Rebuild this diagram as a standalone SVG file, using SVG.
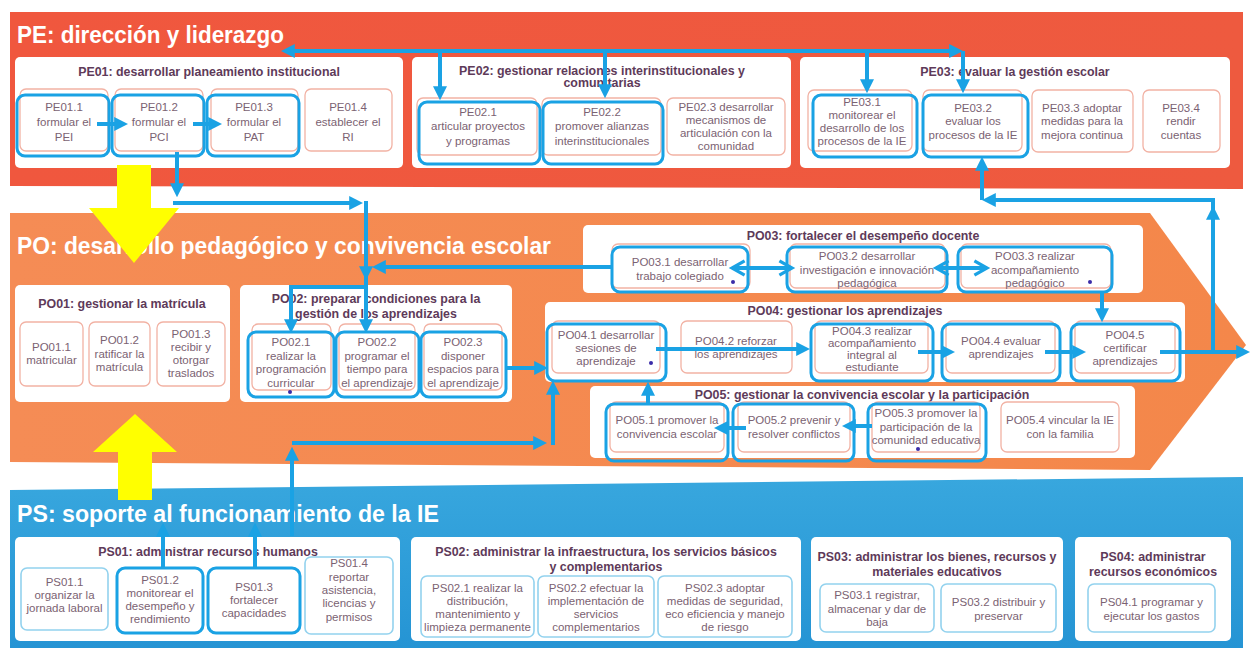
<svg xmlns="http://www.w3.org/2000/svg" width="1256" height="656" viewBox="0 0 1256 656">
<defs>
<linearGradient id="gPE" x1="0" y1="0" x2="1" y2="0"><stop offset="0" stop-color="#f0573e"/><stop offset="1" stop-color="#ee5a3f"/></linearGradient>
<linearGradient id="gPO" x1="0" y1="0" x2="1" y2="0"><stop offset="0" stop-color="#f58c55"/><stop offset="1" stop-color="#f4874a"/></linearGradient>
<linearGradient id="gPS" x1="0" y1="0" x2="0" y2="1"><stop offset="0" stop-color="#38a7de"/><stop offset="1" stop-color="#2594d4"/></linearGradient>
<marker id="ah" viewBox="0 0 10 10" refX="7" refY="5" markerWidth="3.5" markerHeight="3.5" orient="auto-start-reverse"><path d="M0,0L10,5L0,10z" fill="#1aa2e4"/></marker>
<marker id="ch" viewBox="0 0 10 10" refX="8" refY="5" markerWidth="4.5" markerHeight="4.5" orient="auto-start-reverse"><path d="M1,1L8,5L1,9" fill="none" stroke="#1aa2e4" stroke-width="1.8"/></marker>
<style>
.bt{font-family:"Liberation Sans",Arial,sans-serif;font-size:24.6px;font-weight:bold;fill:#ffffff}
.ct{font-family:"Liberation Sans",Arial,sans-serif;font-size:12.4px;font-weight:bold;fill:#5e3a59;text-anchor:middle}
.tx{font-family:"Liberation Sans",Arial,sans-serif;font-size:11.5px;fill:#7b6272;text-anchor:middle}
.c{fill:#ffffff}
.pk{fill:#ffffff;stroke:#f2b2a4;stroke-width:1.3}
.lb{fill:#ffffff;stroke:#93d2ee;stroke-width:1.6}
.hl{fill:none;stroke:#1aa2e4;stroke-width:3}
.cn{fill:none;stroke:#1aa2e4;stroke-width:4}
.dot{fill:#3a2ca8}
.yl{fill:#ffff00}
</style>
</defs>

<g id="bands">
<polygon points="10,12 1243,12 1243,189 10,186" fill="url(#gPE)"/>
<polygon points="10,213 1150,213 1246,345 1150,470 10,462" fill="url(#gPO)"/>
<polygon points="10,490 1243,477 1243,648 10,648" fill="url(#gPS)"/>
<text class="bt" x="17" y="43" textLength="267" lengthAdjust="spacingAndGlyphs">PE: dirección y liderazgo</text>
<text class="bt" x="17" y="254" textLength="534" lengthAdjust="spacingAndGlyphs">PO: desarrollo pedagógico y convivencia escolar</text>
<text class="bt" x="17" y="522" textLength="422" lengthAdjust="spacingAndGlyphs">PS: soporte al funcionamiento de la IE</text>
</g>

<g id="PE01">
<rect class="c" x="15" y="57" width="388" height="111" rx="5"/>
<text class="ct" x="209" y="76">PE01: desarrollar planeamiento institucional</text>
<rect class="pk" x="20" y="89" width="88" height="62" rx="6"/>
<rect class="pk" x="115" y="89" width="88" height="62" rx="6"/>
<rect class="pk" x="211" y="89" width="87" height="62" rx="6"/>
<rect class="pk" x="305" y="89" width="87" height="62" rx="6"/>
<rect class="hl" x="17" y="95" width="92" height="61" rx="8"/>
<rect class="hl" x="112" y="95" width="92" height="61" rx="8"/>
<rect class="hl" x="207" y="95" width="92" height="61" rx="8"/>
<text class="tx" x="64" y="111">PE01.1</text><text class="tx" x="64" y="126">formular el</text><text class="tx" x="64" y="141">PEI</text>
<text class="tx" x="159" y="111">PE01.2</text><text class="tx" x="159" y="126">formular el</text><text class="tx" x="159" y="141">PCI</text>
<text class="tx" x="254" y="111">PE01.3</text><text class="tx" x="254" y="126">formular el</text><text class="tx" x="254" y="141">PAT</text>
<text class="tx" x="348" y="111">PE01.4</text><text class="tx" x="348" y="126">establecer el</text><text class="tx" x="348" y="141">RI</text>
</g>

<g id="PE02">
<rect class="c" x="412" y="57" width="379" height="111" rx="5"/>
<text class="ct" x="602" y="75">PE02: gestionar relaciones interinstitucionales y</text>
<text class="ct" x="602" y="87">comunitarias</text>
<rect class="pk" x="417" y="98" width="120" height="57" rx="6"/>
<rect class="pk" x="542" y="98" width="119" height="57" rx="6"/>
<rect class="pk" x="667" y="98" width="118" height="57" rx="6"/>
<rect class="hl" x="419" y="102" width="121" height="62" rx="8"/>
<rect class="hl" x="543" y="102" width="120" height="62" rx="8"/>
<text class="tx" x="478" y="116">PE02.1</text><text class="tx" x="478" y="130">articular proyectos</text><text class="tx" x="478" y="145">y programas</text>
<text class="tx" x="602" y="116">PE02.2</text><text class="tx" x="602" y="130">promover alianzas</text><text class="tx" x="602" y="145">interinstitucionales</text>
<text class="tx" x="726" y="111">PE02.3 desarrollar</text><text class="tx" x="726" y="124">mecanismos de</text><text class="tx" x="726" y="137">articulación con la</text><text class="tx" x="726" y="150">comunidad</text>
</g>

<g id="PE03">
<rect class="c" x="800" y="57" width="430" height="111" rx="5"/>
<text class="ct" x="1015" y="76">PE03: evaluar la gestión escolar</text>
<rect class="pk" x="808" y="90" width="104" height="61" rx="6"/>
<rect class="pk" x="923" y="90" width="99" height="61" rx="6"/>
<rect class="pk" x="1032" y="90" width="101" height="62" rx="6"/>
<rect class="pk" x="1143" y="90" width="77" height="62" rx="6"/>
<rect class="hl" x="813" y="95" width="104" height="62" rx="8"/>
<rect class="hl" x="923" y="95" width="105" height="62" rx="8"/>
<text class="tx" x="862" y="105.5">PE03.1</text><text class="tx" x="862" y="118.5">monitorear el</text><text class="tx" x="862" y="131.5">desarrollo de los</text><text class="tx" x="862" y="144.5">procesos de la IE</text>
<text class="tx" x="973" y="111.5">PE03.2</text><text class="tx" x="973" y="125">evaluar los</text><text class="tx" x="973" y="138.5">procesos de la IE</text>
<text class="tx" x="1082" y="111.5">PE03.3 adoptar</text><text class="tx" x="1082" y="125">medidas para la</text><text class="tx" x="1082" y="138.5">mejora continua</text>
<text class="tx" x="1181" y="111.5">PE03.4</text><text class="tx" x="1181" y="125">rendir</text><text class="tx" x="1181" y="138.5">cuentas</text>
</g>

<g id="PO01">
<rect class="c" x="15" y="285" width="215" height="117" rx="5"/>
<text class="ct" x="122" y="308">PO01: gestionar la matrícula</text>
<rect class="pk" x="20" y="322" width="63" height="64" rx="6"/>
<rect class="pk" x="89" y="322" width="61" height="64" rx="6"/>
<rect class="pk" x="157" y="322" width="68" height="64" rx="6"/>
<text class="tx" x="51.5" y="351">PO01.1</text><text class="tx" x="51.5" y="364">matricular</text>
<text class="tx" x="119.5" y="344">PO01.2</text><text class="tx" x="119.5" y="357.5">ratificar la</text><text class="tx" x="119.5" y="371">matrícula</text>
<text class="tx" x="191" y="338">PO01.3</text><text class="tx" x="191" y="351">recibir y</text><text class="tx" x="191" y="364">otorgar</text><text class="tx" x="191" y="377">traslados</text>
</g>

<g id="PO02">
<rect class="c" x="240" y="285" width="272" height="117" rx="5"/>
<text class="ct" x="376" y="303">PO02: preparar condiciones para la</text>
<text class="ct" x="376" y="318">gestión de los aprendizajes</text>
<rect class="pk" x="252" y="324" width="79" height="66" rx="6"/>
<rect class="pk" x="339" y="324" width="76" height="66" rx="6"/>
<rect class="pk" x="424" y="324" width="78" height="66" rx="6"/>
<rect class="hl" x="248" y="332" width="86" height="65" rx="8"/>
<rect class="hl" x="336" y="332" width="83" height="65" rx="8"/>
<rect class="hl" x="421" y="332" width="85" height="65" rx="8"/>
<text class="tx" x="291" y="346">PO02.1</text><text class="tx" x="291" y="359.5">realizar la</text><text class="tx" x="291" y="373">programación</text><text class="tx" x="291" y="386.5">curricular</text>
<text class="tx" x="377" y="346">PO02.2</text><text class="tx" x="377" y="359.5">programar el</text><text class="tx" x="377" y="373">tiempo para</text><text class="tx" x="377" y="386.5">el aprendizaje</text>
<text class="tx" x="463" y="346">PO02.3</text><text class="tx" x="463" y="359.5">disponer</text><text class="tx" x="463" y="373">espacios para</text><text class="tx" x="463" y="386.5">el aprendizaje</text>
<circle class="dot" cx="290" cy="392" r="2"/>
</g>

<g id="PO03">
<rect class="c" x="583" y="225" width="560" height="68" rx="5"/>
<text class="ct" x="863" y="240">PO03: fortalecer el desempeño docente</text>
<rect class="pk" x="612" y="244" width="138" height="44" rx="6"/>
<rect class="pk" x="790" y="244" width="155" height="44" rx="6"/>
<rect class="pk" x="961" y="244" width="150" height="44" rx="6"/>
<rect class="hl" x="612" y="247" width="136" height="45" rx="8"/>
<rect class="hl" x="787" y="247" width="160" height="45" rx="8"/>
<rect class="hl" x="958" y="247" width="154" height="45" rx="8"/>
<text class="tx" x="680" y="266">PO03.1 desarrollar</text><text class="tx" x="680" y="280">trabajo colegiado</text>
<text class="tx" x="867" y="260">PO03.2 desarrollar</text><text class="tx" x="867" y="273.5">investigación e innovación</text><text class="tx" x="867" y="287">pedagógica</text>
<text class="tx" x="1035" y="260">PO03.3 realizar</text><text class="tx" x="1035" y="273.5">acompañamiento</text><text class="tx" x="1035" y="287">pedagógico</text>
<circle class="dot" cx="733" cy="282" r="2"/>
<circle class="dot" cx="1090" cy="282" r="2"/>
</g>

<g id="PO04">
<rect class="c" x="545" y="302" width="640" height="80" rx="5"/>
<text class="ct" x="845" y="315">PO04: gestionar los aprendizajes</text>
<rect class="pk" x="552" y="321" width="108" height="52" rx="6"/>
<rect class="pk" x="681" y="321" width="111" height="52" rx="6"/>
<rect class="pk" x="815" y="321" width="113" height="52" rx="6"/>
<rect class="pk" x="946" y="321" width="109" height="52" rx="6"/>
<rect class="pk" x="1075" y="321" width="100" height="52" rx="6"/>
<rect class="hl" x="547" y="324" width="119" height="57" rx="8"/>
<rect class="hl" x="811" y="324" width="122" height="57" rx="8"/>
<rect class="hl" x="942" y="324" width="118" height="57" rx="8"/>
<rect class="hl" x="1071" y="324" width="109" height="57" rx="8"/>
<text class="tx" x="606" y="339">PO04.1 desarrollar</text><text class="tx" x="606" y="352">sesiones de</text><text class="tx" x="606" y="365">aprendizaje</text>
<text class="tx" x="736" y="345">PO04.2 reforzar</text><text class="tx" x="736" y="358">los aprendizajes</text>
<text class="tx" x="872" y="335">PO04.3 realizar</text><text class="tx" x="872" y="347">acompañamiento</text><text class="tx" x="872" y="359">integral al</text><text class="tx" x="872" y="371">estudiante</text>
<text class="tx" x="1001" y="345">PO04.4 evaluar</text><text class="tx" x="1001" y="358">aprendizajes</text>
<text class="tx" x="1125" y="339">PO04.5</text><text class="tx" x="1125" y="352">certificar</text><text class="tx" x="1125" y="365">aprendizajes</text>
<circle class="dot" cx="651" cy="363" r="2"/>
</g>

<g id="PO05">
<rect class="c" x="590" y="386" width="545" height="72" rx="5"/>
<text class="ct" x="862" y="399">PO05: gestionar la convivencia escolar y la participación</text>
<rect class="pk" x="610" y="402" width="114" height="50" rx="6"/>
<rect class="pk" x="738" y="402" width="112" height="50" rx="6"/>
<rect class="pk" x="872" y="402" width="108" height="50" rx="6"/>
<rect class="pk" x="1001" y="402" width="118" height="50" rx="6"/>
<rect class="hl" x="606" y="404" width="122" height="57" rx="8"/>
<rect class="hl" x="733" y="404" width="121" height="57" rx="8"/>
<rect class="hl" x="868" y="404" width="118" height="57" rx="8"/>
<text class="tx" x="667" y="424">PO05.1 promover la</text><text class="tx" x="667" y="438">convivencia escolar</text>
<text class="tx" x="794" y="424">PO05.2 prevenir y</text><text class="tx" x="794" y="438">resolver conflictos</text>
<text class="tx" x="926" y="417">PO05.3 promover la</text><text class="tx" x="926" y="430.5">participación de la</text><text class="tx" x="926" y="444">comunidad educativa</text>
<text class="tx" x="1060" y="424">PO05.4 vincular la IE</text><text class="tx" x="1060" y="438">con la familia</text>
<circle class="dot" cx="918" cy="449" r="2"/>
</g>

<g id="PS01">
<rect class="c" x="15" y="537" width="385" height="104" rx="5"/>
<text class="ct" x="208" y="556">PS01: administrar recursos humanos</text>
<rect class="lb" x="21" y="568" width="87" height="62" rx="6"/>
<rect class="lb" x="305" y="557" width="88" height="77" rx="6"/>
<rect class="hl" x="117" y="568" width="86" height="65" rx="8"/>
<rect class="hl" x="208" y="568" width="92" height="65" rx="8"/>
<text class="tx" x="64.5" y="586">PS01.1</text><text class="tx" x="64.5" y="599">organizar la</text><text class="tx" x="64.5" y="612">jornada laboral</text>
<text class="tx" x="160" y="584">PS01.2</text><text class="tx" x="160" y="597">monitorear el</text><text class="tx" x="160" y="610">desempeño y</text><text class="tx" x="160" y="623">rendimiento</text>
<text class="tx" x="254" y="591">PS01.3</text><text class="tx" x="254" y="604">fortalecer</text><text class="tx" x="254" y="617">capacidades</text>
<text class="tx" x="349" y="567">PS01.4</text><text class="tx" x="349" y="581">reportar</text><text class="tx" x="349" y="594">asistencia,</text><text class="tx" x="349" y="607">licencias y</text><text class="tx" x="349" y="621">permisos</text>
</g>

<g id="PS02">
<rect class="c" x="411" y="537" width="390" height="104" rx="5"/>
<text class="ct" x="606" y="556">PS02: administrar la infraestructura, los servicios básicos</text>
<text class="ct" x="606" y="571">y complementarios</text>
<rect class="lb" x="421" y="576" width="113" height="61" rx="6"/>
<rect class="lb" x="538" y="576" width="116" height="61" rx="6"/>
<rect class="lb" x="658" y="576" width="134" height="61" rx="6"/>
<text class="tx" x="477.5" y="592">PS02.1 realizar la</text><text class="tx" x="477.5" y="605">distribución,</text><text class="tx" x="477.5" y="618">mantenimiento y</text><text class="tx" x="477.5" y="631">limpieza permanente</text>
<text class="tx" x="596" y="592">PS02.2 efectuar la</text><text class="tx" x="596" y="605">implementación de</text><text class="tx" x="596" y="618">servicios</text><text class="tx" x="596" y="631">complementarios</text>
<text class="tx" x="725" y="592">PS02.3 adoptar</text><text class="tx" x="725" y="605">medidas de seguridad,</text><text class="tx" x="725" y="618">eco eficiencia y manejo</text><text class="tx" x="725" y="631">de riesgo</text>
</g>

<g id="PS03">
<rect class="c" x="811" y="537" width="252" height="104" rx="5"/>
<text class="ct" x="937" y="561">PS03: administrar los bienes, recursos y</text>
<text class="ct" x="937" y="576">materiales educativos</text>
<rect class="lb" x="820" y="584" width="114" height="48" rx="6"/>
<rect class="lb" x="941" y="584" width="115" height="48" rx="6"/>
<text class="tx" x="877" y="599">PS03.1 registrar,</text><text class="tx" x="877" y="612.5">almacenar y dar de</text><text class="tx" x="877" y="626">baja</text>
<text class="tx" x="998.5" y="606">PS03.2 distribuir y</text><text class="tx" x="998.5" y="620">preservar</text>
</g>

<g id="PS04">
<rect class="c" x="1075" y="537" width="156" height="104" rx="5"/>
<text class="ct" x="1153" y="561">PS04: administrar</text>
<text class="ct" x="1153" y="576">recursos económicos</text>
<rect class="lb" x="1088" y="584" width="127" height="48" rx="6"/>
<text class="tx" x="1151.5" y="606">PS04.1 programar y</text><text class="tx" x="1151.5" y="620">ejecutar los gastos</text>
</g>

<g id="yellow-arrows">
<polygon class="yl" points="117,165 151,165 151,208 179,208 134,263 89,208 117,208"/>
<polygon class="yl" points="135,414 177,452 152,452 152,500 118,500 118,452 93,452"/>
</g>

<g id="connectors">
<path class="cn" d="M285,51H959" marker-start="url(#ah)" marker-end="url(#ah)"/>
<path class="cn" d="M440,51V96" marker-end="url(#ah)"/>
<path class="cn" d="M605,51V94" marker-end="url(#ah)"/>
<path class="cn" d="M867,51V89" marker-end="url(#ah)"/>
<path class="cn" d="M963,51V89" marker-end="url(#ah)"/>
<path class="cn" d="M97,124H124" marker-end="url(#ah)"/>
<path class="cn" d="M193,124H218" marker-end="url(#ah)"/>
<path class="cn" d="M177,152V193" marker-end="url(#ah)"/>
<path class="cn" d="M173,203H359" marker-end="url(#ah)"/>
<path class="cn" d="M366,201V329" marker-end="url(#ah)"/>
<path class="cn" d="M366,268V276" marker-end="url(#ah)"/>
<path class="cn" d="M366,287H291V329" marker-end="url(#ah)"/>
<path class="cn" d="M612,267H376" marker-end="url(#ah)"/>
<path class="cn" d="M732,268H792" marker-start="url(#ch)" marker-end="url(#ch)"/>
<path class="cn" d="M936,268H987" marker-start="url(#ch)" marker-end="url(#ch)"/>
<path class="cn" d="M1102,292V318" marker-end="url(#ah)"/>
<path class="cn" d="M506,368H544" marker-end="url(#ah)"/>
<path class="cn" d="M292,536V451" marker-end="url(#ah)"/>
<path class="cn" d="M292,443H543" marker-end="url(#ah)"/>
<path class="cn" d="M553,445V385" marker-end="url(#ah)"/>
<path class="cn" d="M163,568V527" marker-end="url(#ah)"/>
<path class="cn" d="M255,568V527" marker-end="url(#ah)"/>
<path class="cn" d="M656,349H806" marker-end="url(#ah)"/>
<path class="cn" d="M918,352H951" marker-end="url(#ah)"/>
<path class="cn" d="M1045,352H1082" marker-end="url(#ah)"/>
<path class="cn" d="M1160,352H1246" marker-end="url(#ah)"/>
<path class="cn" d="M1213,352V200H986" marker-end="url(#ah)"/>
<path class="cn" d="M1213,218V210" marker-end="url(#ah)"/>
<path class="cn" d="M982,200V161" marker-end="url(#ah)"/>
<path class="cn" d="M872,426H846" marker-end="url(#ah)"/>
<path class="cn" d="M746,428H718" marker-end="url(#ah)"/>
<path class="cn" d="M648,404V386" marker-end="url(#ah)"/>
</g>
</svg>
